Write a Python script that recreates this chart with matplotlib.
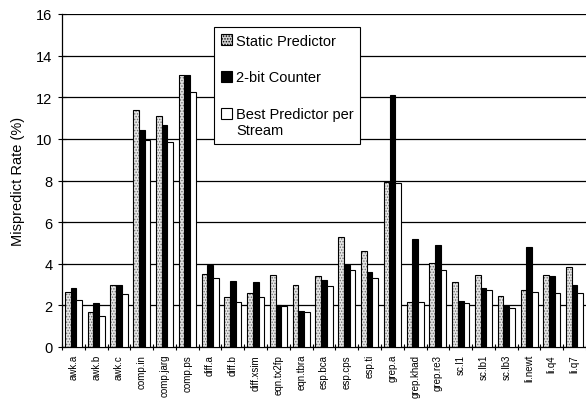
import numpy as np
import matplotlib
matplotlib.use("Agg")
import matplotlib.pyplot as plt
from matplotlib.patches import Patch, Rectangle
from matplotlib.legend_handler import HandlerPatch

plt.rcParams['font.family'] = ['Liberation Sans', 'DejaVu Sans']
plt.rcParams['hatch.linewidth'] = 0.7

categories = ["awk.a", "awk.b", "awk.c", "comp.in", "comp.jarg", "comp.ps",
              "diff.a", "diff.b", "diff.xsim", "eqn.tx2fp", "eqn.tbra",
              "esp.bca", "esp.cps", "esp.ti", "grep.a", "grep.khad",
              "grep.re3", "sc.l1", "sc.lb1", "sc.lb3", "li.newt", "li.q4", "li.q7"]

static_pred = [2.63, 1.67, 3.0, 11.4, 11.1, 13.09, 3.49, 2.42, 2.6, 3.46, 2.98,
               3.4, 5.27, 4.6, 7.95, 2.18, 4.02, 3.11, 3.46, 2.44, 2.74, 3.48, 3.86]
two_bit = [2.85, 2.1, 2.97, 10.42, 10.66, 13.06, 3.95, 3.15, 3.12, 2.03, 1.72,
           3.24, 3.96, 3.59, 12.12, 5.19, 4.9, 2.2, 2.82, 1.99, 4.79, 3.43, 3.0]
best_per_stream = [2.27, 1.5, 2.55, 9.94, 9.87, 12.23, 3.3, 2.15, 2.39, 1.99, 1.67,
                   2.95, 3.7, 3.33, 7.87, 2.15, 3.7, 2.1, 2.74, 1.86, 2.63, 2.6, 2.6]

series_labels = ["Static Predictor", "2-bit Counter", "Best Predictor per\nStream"]
yticks = [0, 2, 4, 6, 8, 10, 12, 14, 16]

W, H = 586, 402
fig = plt.figure(figsize=(W / 100, H / 100), dpi=100)
ax = fig.add_axes([62 / W, 54 / H, 1 - 62 / W, (348 - 15) / H])

x = np.arange(len(categories))
bw = 0.25

# static predictor: stippled grey
ax.bar(x - bw, static_pred, bw, facecolor='#e6e6e6', edgecolor='#707070',
       linewidth=0, hatch='......', zorder=2)
ax.bar(x - bw, static_pred, bw, fill=False, edgecolor='black', linewidth=0.8, zorder=3)
ax.bar(x, two_bit, bw, facecolor='black', edgecolor='black', linewidth=0.8, zorder=3)
ax.bar(x + bw, best_per_stream, bw, facecolor='white', edgecolor='black',
       linewidth=0.8, zorder=3)

ax.set_xlim(-0.5, -0.5 + (W - 62) / 23.1)
ax.set_ylim(0, 16)
ax.set_yticks(yticks)
ax.set_yticklabels([str(v) for v in yticks], fontsize=10.5)
ax.yaxis.grid(True, color='black', linewidth=0.9)
ax.set_axisbelow(True)

ax.set_xticks(np.arange(-0.5, len(categories), 1))
ax.set_xticklabels([])
ax.set_xticks(x, minor=True)
ax.set_xticklabels(categories, minor=True, rotation=90, fontsize=7)
ax.tick_params(axis='x', which='major', direction='inout', length=5, width=0.8)
ax.tick_params(axis='x', which='minor', length=0, pad=5)
ax.tick_params(axis='y', direction='inout', length=6, width=0.8, pad=4)

for s in ['top', 'right']:
    ax.spines[s].set_visible(False)
ax.spines['left'].set_linewidth(0.9)
ax.spines['bottom'].set_linewidth(0.9)

ax.set_ylabel("Mispredict Rate (%)", fontsize=10.5, labelpad=8)


def top_aligned(legend, orig_handle, xdescent, ydescent, width, height, fontsize):
    return Rectangle((-xdescent, -ydescent + 0.6 * fontsize), width, height)


handles = [
    Patch(facecolor='#d0d0d0', edgecolor='black', hatch='......', linewidth=0.8),
    Patch(facecolor='black', edgecolor='black', linewidth=0.8),
    Patch(facecolor='white', edgecolor='black', linewidth=0.8),
]
leg = ax.legend(handles, series_labels, loc='upper left',
                bbox_to_anchor=(214 / W, 1 - 28 / H), bbox_transform=fig.transFigure,
                borderaxespad=0, fontsize=10.5, frameon=True, fancybox=False,
                edgecolor='black', framealpha=1, labelspacing=1.55,
                handlelength=0.8, handleheight=0.8, handletextpad=0.25,
                borderpad=0.45,
                handler_map={handles[2]: HandlerPatch(patch_func=top_aligned)})
leg.get_frame().set_linewidth(0.8)

fig.savefig("out.png", dpi=100)
